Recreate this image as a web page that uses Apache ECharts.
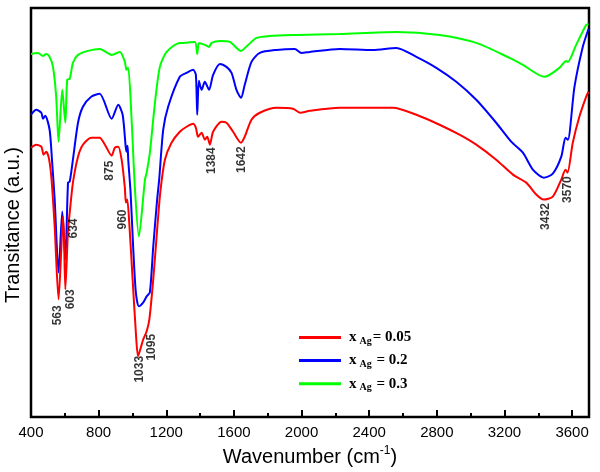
<!DOCTYPE html>
<html>
<head>
<meta charset="utf-8">
<script src="https://cdn.jsdelivr.net/npm/echarts@6/dist/echarts.min.js"></script>
<style>html,body{margin:0;padding:0;background:#fff;}#c{width:600px;height:472px;}</style>
</head>
<body>
<div id="c"></div>
<script>
// Series names
var seriesNames = ['xAg= 0.05', 'xAg = 0.2', 'xAg = 0.3'];
var legendValues = ['= 0.05', ' = 0.2', ' = 0.3'];
// Wavenumber (cm-1), transmittance (arbitrary units)
var red = [[400,270],[431,273],[461,271],[475,263],[490,266],[505,260],[520,241],[540,191],[563,118],[579,168],[589,201],[595,181],[603,128],[619,188],[629,205],[648,235],[678,261],[707,273],[756,280],[806,280],[837,273],[877,262],[896,270],[916,271],[936,258],[955,230],[961,215],[969,218],[981,195],[1001,138],[1020,85],[1033,61],[1050,70],[1064,78],[1084,86],[1100,98],[1123,138],[1146,188],[1165,226],[1192,258],[1231,275],[1280,286],[1320,291],[1359,294],[1375,290],[1388,281],[1409,285],[1428,278],[1442,281],[1458,273],[1477,286],[1527,296],[1556,295],[1595,286],[1642,275],[1664,281],[1704,298],[1753,305],[1852,310],[1950,309],[1993,305],[2048,307],[2226,310],[2541,310],[2679,303],[2816,293],[2934,283],[3033,273],[3151,258],[3250,243],[3329,235],[3388,223],[3432,218],[3486,221],[3536,238],[3561,248],[3573,245],[3604,275],[3643,301],[3683,321],[3697,326]];
var blue = [[400,303],[431,308],[461,305],[471,299],[484,302],[510,288],[524,258],[540,218],[563,145],[585,206],[603,158],[619,235],[629,236],[648,258],[678,295],[707,311],[756,321],[806,324],[877,299],[916,313],[942,303],[960,271],[965,266],[971,272],[975,258],[989,225],[1004,171],[1020,125],[1038,111],[1064,115],[1084,121],[1103,125],[1123,171],[1146,218],[1158,238],[1182,288],[1211,311],[1280,341],[1320,345],[1359,348],[1375,343],[1383,303],[1393,337],[1409,328],[1428,336],[1453,328],[1477,343],[1517,354],[1556,351],[1586,345],[1615,328],[1642,320],[1664,333],[1704,356],[1753,365],[1852,368],[1960,369],[1999,365],[2048,366],[2226,369],[2422,368],[2561,370],[2679,361],[2797,350],[2915,336],[3033,318],[3151,295],[3240,276],[3309,265],[3368,248],[3432,240],[3486,244],[3536,261],[3561,280],[3575,278],[3614,331],[3663,371],[3697,389]];
var green = [[400,364],[441,365],[471,362],[490,364],[510,361],[530,351],[549,321],[563,276],[585,328],[603,295],[614,338],[629,339],[648,355],[678,363],[737,367],[806,369],[877,363],[926,366],[955,356],[965,348],[975,350],[995,298],[1014,231],[1038,181],[1074,238],[1084,245],[1103,265],[1133,315],[1162,351],[1202,366],[1280,375],[1300,375],[1369,376],[1383,364],[1394,375],[1428,373],[1453,371],[1468,375],[1517,377],[1576,376],[1642,367],[1684,373],[1734,380],[1812,382],[1970,383],[2226,384],[2561,386],[2816,383],[3033,375],[3230,360],[3309,353],[3437,341],[3525,350],[3565,357],[3575,356],[3624,373],[3683,393],[3697,394]];
// Peak labels: text and label anchor position
var peakText = ['563','603','634','875','960','1033','1095','1384','1642','3432','3570'];
var peakX = [560, 636, 654, 867, 944, 1044, 1115, 1469, 1647, 3443, 3573];
var peakY = [102, 118, 189, 247, 198, 48, 70, 257, 258, 201, 228];
// X axis tick labels
var xMin = 400, xMax = 3700, xLabelStep = 400, xMinorStep = 200;

var colors = ['#ff0000', '#0000ff', '#00ff00'];
var peakData = peakText.map(function (t, i) { return [peakX[i], peakY[i], t]; });

var chart = echarts.init(document.getElementById('c'), null, {renderer: 'canvas'});
var lineSeries = [red, blue, green].map(function (d, i) {
  return {
    name: seriesNames[i], type: 'line', data: d, symbol: 'none', smooth: 0.25,
    lineStyle: {color: colors[i], width: 2}, itemStyle: {color: colors[i]},
    silent: true, z: 3 - i
  };
});
var serif = 'Liberation Serif, Times New Roman';
var option = {
  backgroundColor: '#fff',
  animation: false,
  grid: {left: 31, right: 11, top: 8, bottom: 54, show: true, borderColor: '#000', borderWidth: 2.5, backgroundColor: 'transparent'},
  xAxis: [{
    type: 'value', min: xMin, max: xMax, interval: xMinorStep,
    axisLine: {show: false},
    axisTick: {show: true, inside: true, length: 4, lineStyle: {color: '#000', width: 2}},
    splitLine: {show: false},
    axisLabel: {
      color: '#000', fontSize: 15, fontFamily: 'Liberation Sans, Arial', margin: 8,
      formatter: function (v) { return (v % xLabelStep === 0 && v < xMax) ? String(v) : ''; }
    },
    name: '{a|Wavenumber (cm}{s|-1}{a|)}', nameLocation: 'middle', nameGap: 25,
    nameTextStyle: {rich: {
      a: {fontSize: 20, fontFamily: 'Liberation Sans, Arial', color: '#000', lineHeight: 24},
      s: {fontSize: 12, fontFamily: 'Liberation Sans, Arial', color: '#000', lineHeight: 12, verticalAlign: 'top'}
    }}
  }, {
    type: 'value', min: xMin, max: xMax, interval: xLabelStep, position: 'bottom',
    axisLine: {show: false},
    axisTick: {show: true, inside: true, length: 7, lineStyle: {color: '#000', width: 2}},
    axisLabel: {show: false}, splitLine: {show: false}
  }],
  yAxis: {type: 'value', min: 0, max: 410, show: false},
  legend: {
    data: seriesNames, orient: 'vertical', left: 299, top: 330, itemGap: 6.6,
    itemWidth: 42, itemHeight: 3, icon: 'rect', padding: 0,
    formatter: function (name) {
      var i = seriesNames.indexOf(name);
      return '{x|x}{s|Ag}{a|' + legendValues[i] + '}';
    },
    textStyle: {
      color: '#000', fontFamily: serif, fontWeight: 'bold', fontSize: 15,
      rich: {
        x: {fontFamily: serif, fontWeight: 'bold', fontSize: 15, color: '#000', lineHeight: 18, padding: [0, 0, 0, 3]},
        a: {fontFamily: serif, fontWeight: 'bold', fontSize: 15, color: '#000', lineHeight: 18},
        s: {fontFamily: serif, fontWeight: 'bold', fontSize: 10, color: '#000', lineHeight: 6, verticalAlign: 'bottom', padding: [0, 1, 0, 3]}
      }
    }
  },
  graphic: [{
    type: 'text', x: 13, y: 225, rotation: Math.PI / 2,
    style: {text: 'Transitance (a.u.)', fontSize: 20, fontFamily: 'Liberation Sans, Arial', fill: '#000', align: 'center', verticalAlign: 'middle'}
  }],
  series: lineSeries.concat([{
    name: 'peaks', type: 'scatter', data: peakData, symbolSize: 1, silent: true,
    itemStyle: {color: 'rgba(0,0,0,0)'},
    label: {
      show: true, position: 'inside', rotate: 90, color: '#000', fontWeight: 'bold',
      fontSize: 12, fontFamily: 'Liberation Sans, Arial',
      formatter: function (p) { return p.data[2]; }
    }, z: 5
  }])
};
chart.setOption(option);
</script>
</body>
</html>
